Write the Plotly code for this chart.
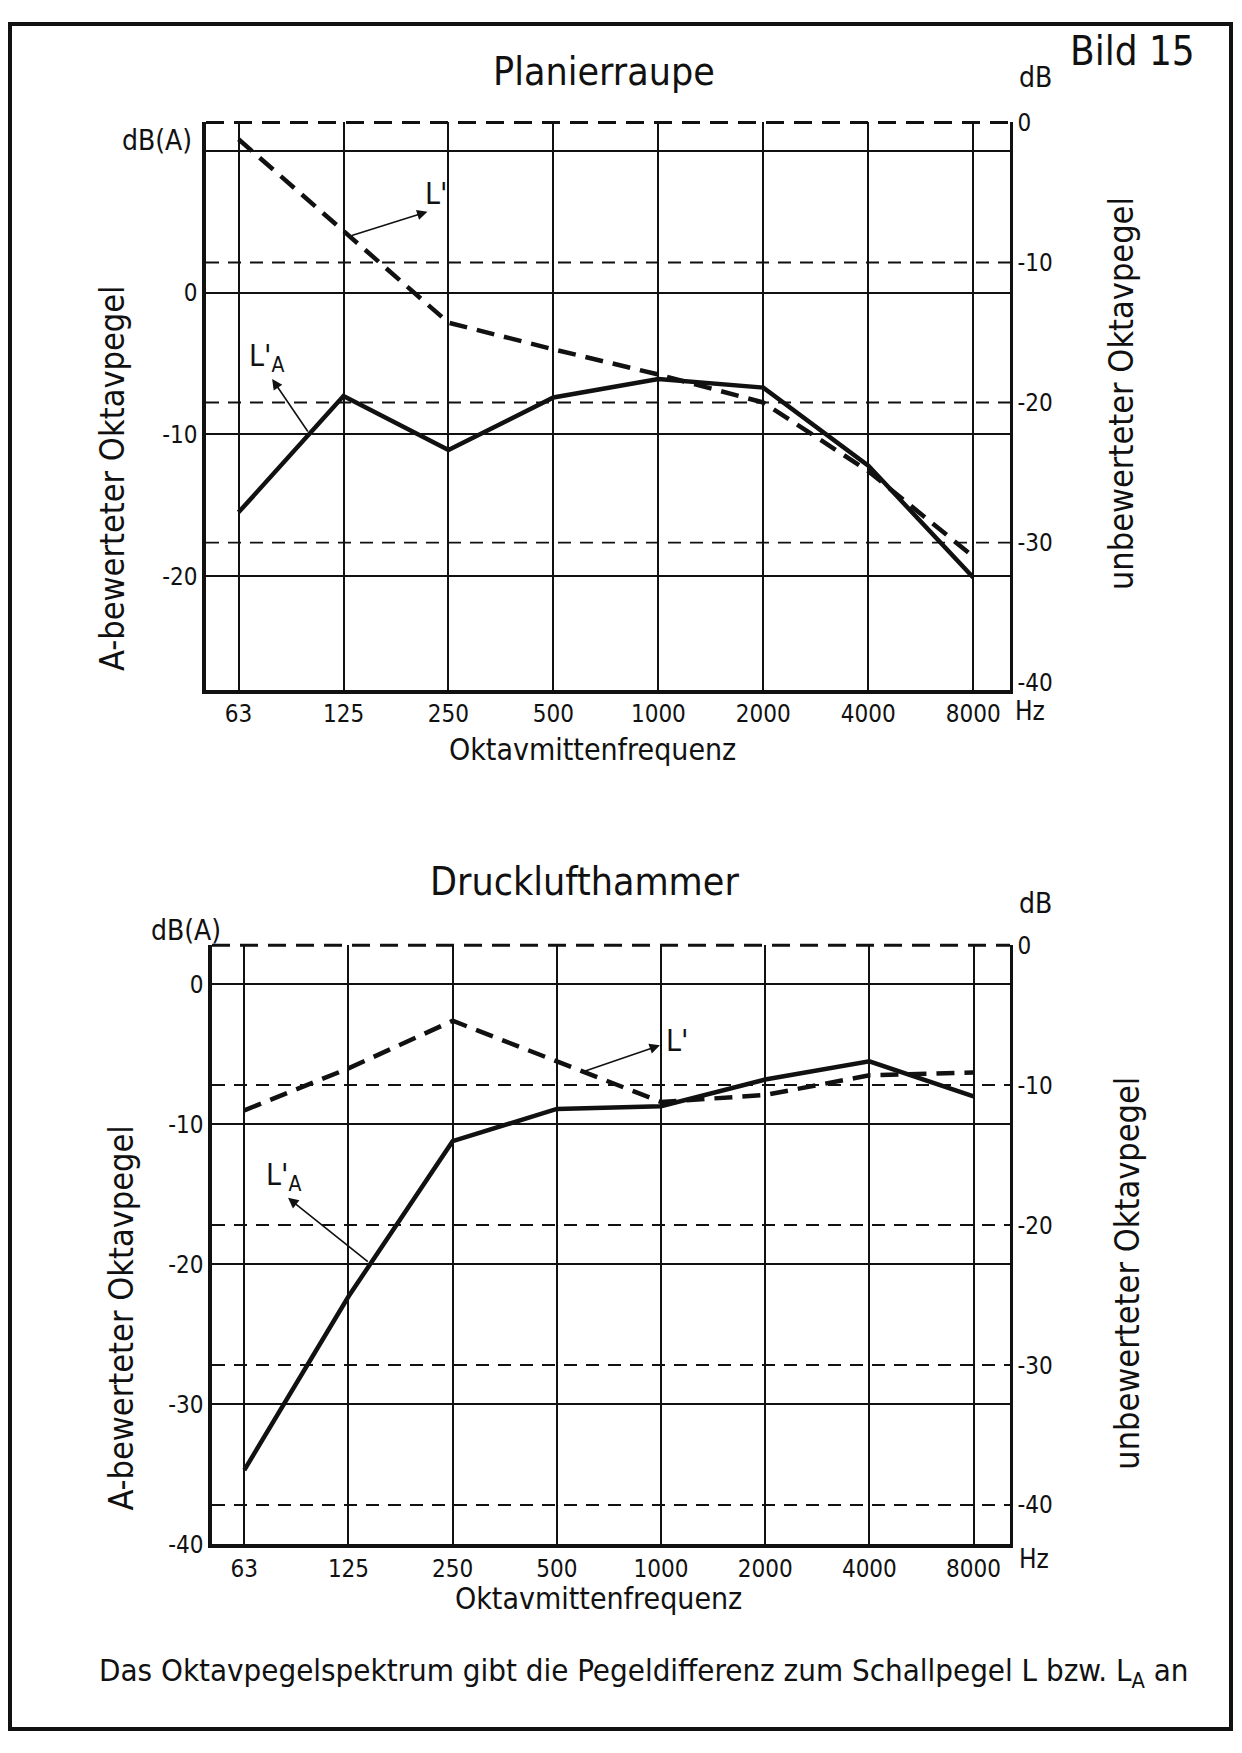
import plotly.graph_objects as go

PAGE_W, PAGE_H = 1242, 1753
OFF = 8  # the page body adds an 8 px margin around the figure
W, H = PAGE_W - 2 * OFF, PAGE_H - 2 * OFF  # keep the page free of scrollbars
# measured vertical mapping of the photographed page (y_page = S * y + T)
S, T = 0.9854, 12.5

freq_labels = ["63", "125", "250", "500", "1000", "2000", "4000", "8000"]

# Planierraupe: A-weighted (left axis, dB(A)) and unweighted (right axis, dB)
plan_la = [-15.5, -7.3, -11.1, -7.4, -6.1, -6.7, -12.2, -20.1]
plan_l = [-1.2, -7.8, -14.3, -16.2, -18.0, -20.0, -24.9, -31.0]

# Drucklufthammer
druck_la = [-34.7, -22.3, -11.2, -8.9, -8.7, -6.8, -5.5, -8.0]
druck_l = [-11.8, -8.8, -5.4, -8.3, -11.2, -10.7, -9.3, -9.1]

top_left_ticks = [10, 0, -10, -20]
top_left_text = ["", "0", "-10", "-20"]
bot_left_ticks = [0, -10, -20, -30, -40]
bot_left_text = ["0", "-10", "-20", "-30", "-40"]
right_ticks = [0, -10, -20, -30, -40]
right_text = ["0", "-10", "-20", "-30", "-40"]
top_right_grid = [-10, -20, -30]

COND = "DejaVu Sans Condensed, DejaVu Sans, sans-serif"
INK = "#111111"


def px(x):
    return (x - OFF) / W


def py(y):
    fy = (y - T) / S - OFF
    fy = min(max(fy, 2), H - 2)
    return 1 - fy / H


fig = go.Figure()

solid = dict(color=INK, width=4.5)
dashed = dict(color=INK, width=4.5, dash="18px,10px")

fig.add_trace(go.Scatter(x=freq_labels, y=plan_la, mode="lines", line=solid,
                         xaxis="x", yaxis="y", showlegend=False))
fig.add_trace(go.Scatter(x=freq_labels, y=plan_l, mode="lines", line=dashed,
                         xaxis="x", yaxis="y2", showlegend=False))
fig.add_trace(go.Scatter(x=freq_labels, y=druck_la, mode="lines", line=solid,
                         xaxis="x2", yaxis="y3", showlegend=False))
fig.add_trace(go.Scatter(x=freq_labels, y=druck_l, mode="lines", line=dashed,
                         xaxis="x2", yaxis="y4", showlegend=False))

tickfont = dict(family=COND, size=24, color=INK)
xcommon = dict(type="category", categoryorder="array", categoryarray=freq_labels,
               range=[-0.31, 7.35], showgrid=True, gridcolor=INK, gridwidth=1.8,
               showline=True, linecolor=INK, linewidth=3.5, ticks="",
               tickfont=tickfont, zeroline=False, fixedrange=True)
ycommon = dict(showgrid=True, gridcolor=INK, gridwidth=1.8, ticks="",
               tickfont=tickfont, zeroline=False, tickmode="array")

fig.update_layout(
    width=W, height=H, autosize=False,
    margin=dict(l=0, r=0, t=0, b=0),
    paper_bgcolor="white", plot_bgcolor="white",
    xaxis=dict(xcommon, domain=[px(206), px(1010)], anchor="y"),
    yaxis=dict(ycommon, domain=[py(689), py(121)], range=[-28, 12],
               tickvals=top_left_ticks, ticktext=top_left_text,
               showline=True, linecolor=INK, linewidth=3.5, anchor="x"),
    yaxis2=dict(ycommon, overlaying="y", side="right", anchor="x", range=[-40.5, 0],
                tickvals=right_ticks, ticktext=right_text, showgrid=False,
                showline=True, linecolor=INK, linewidth=2.5),
    xaxis2=dict(xcommon, domain=[px(212), px(1010)], anchor="y3"),
    yaxis3=dict(ycommon, domain=[py(1545), py(945)], range=[-40, 2.8],
                tickvals=bot_left_ticks, ticktext=bot_left_text,
                showline=True, linecolor=INK, linewidth=3.5, anchor="x2"),
    yaxis4=dict(ycommon, overlaying="y3", side="right", anchor="x2", range=[-42.8, 0],
                tickvals=right_ticks, ticktext=right_text, griddash="13px,9px",
                showline=True, linecolor=INK, linewidth=2.5),
)

# dashed grid of the unweighted scale in the upper diagram (no line at -40)
for val in top_right_grid:
    fig.add_shape(type="line", xref="x domain", yref="y2", x0=0, x1=1, y0=val, y1=val,
                  layer="below", line=dict(color=INK, width=1.8, dash="13px,9px"))

# dashed upper border of both diagrams
for xr, yr in [("x domain", "y domain"), ("x2 domain", "y3 domain")]:
    fig.add_shape(type="line", xref=xr, yref=yr, x0=0, x1=1, y0=1, y1=1,
                  line=dict(color=INK, width=3, dash="18px,10px"))

# page frame
fig.add_shape(type="rect", xref="paper", yref="paper",
              x0=px(10), x1=px(1231), y0=py(1740), y1=py(8),
              line=dict(color=INK, width=4))


def label(text, x, y, size=28, angle=0):
    fig.add_annotation(text=text, x=px(x), y=py(y), xref="paper", yref="paper",
                       xanchor="center", yanchor="middle", showarrow=False,
                       textangle=angle, font=dict(family=COND, size=size, color=INK))


label("Bild 15", 1132, 49, size=40)
label("Planierraupe", 604, 70, size=39)
label("Drucklufthammer", 584, 881, size=39)
label("dB(A)", 157, 139)
label("dB(A)", 186, 930)
label("dB", 1035, 76)
label("dB", 1035, 903)
label("Hz", 1030, 710, size=26)
label("Hz", 1034, 1560, size=26)
label("Oktavmittenfrequenz", 592, 749, size=30)
label("Oktavmittenfrequenz", 598, 1599, size=30)
label("A-bewerteter Oktavpegel", 112, 478, size=34, angle=-90)
label("A-bewerteter Oktavpegel", 121, 1319, size=34, angle=-90)
label("unbewerteter Oktavpegel", 1121, 393, size=34, angle=-90)
label("unbewerteter Oktavpegel", 1127, 1274, size=34, angle=-90)
label("Das Oktavpegelspektrum gibt die Pegeldifferenz zum Schallpegel L bzw. L<sub>A</sub> an",
      644, 1673, size=31)

# curve labels with pointer arrows (head at the label, tail on the curve)
curve_font = dict(family=COND, size=30, color=INK)
pointers = [
    # text, xref, yref, label x, label y, head x, head y, tail x, tail y
    ("L'", "x", "y", 1.88, 7.0, 1.80, 5.7, 1.065, 4.0),
    ("L'<sub>A</sub>", "x", "y", 0.27, -4.6, 0.32, -6.1, 0.67, -9.9),
    ("L'", "x2", "y3", 4.15, -4.0, 3.99, -4.35, 3.23, -6.3),
    ("L'<sub>A</sub>", "x2", "y3", 0.38, -13.7, 0.42, -15.25, 1.2, -19.9),
]
for text, xr, yr, lx, ly, hx, hy, tx, ty in pointers:
    fig.add_annotation(text=text, x=lx, y=ly, xref=xr, yref=yr, showarrow=False,
                       xanchor="center", yanchor="middle", font=curve_font)
    fig.add_annotation(text="", x=hx, y=hy, xref=xr, yref=yr, ax=tx, ay=ty,
                       axref=xr, ayref=yr, showarrow=True, arrowhead=2,
                       arrowsize=1.3, arrowwidth=1.6, arrowcolor=INK)

fig.write_html("out.html")
